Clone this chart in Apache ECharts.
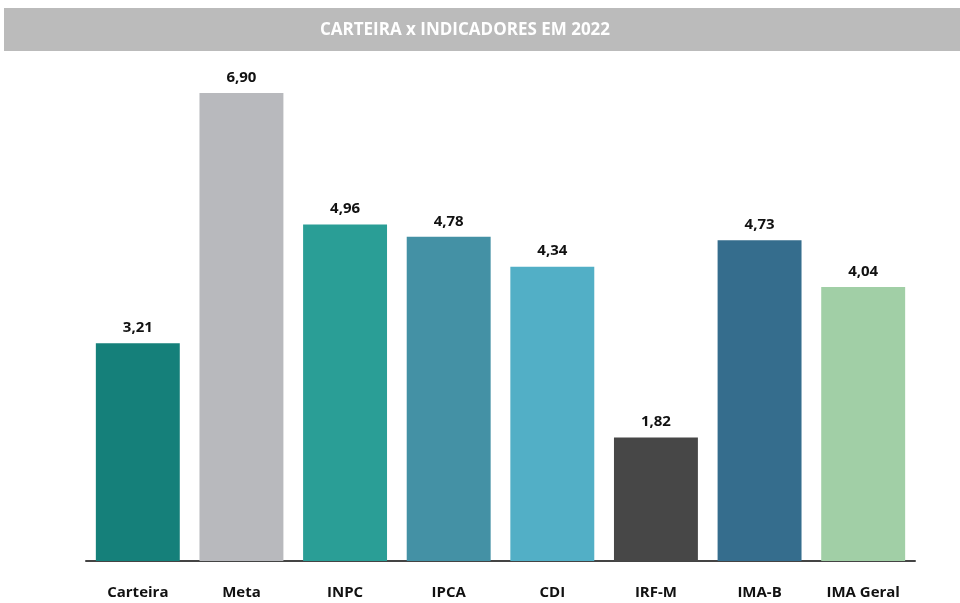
<!DOCTYPE html>
<html>
<head>
<meta charset="utf-8">
<script src="https://cdn.jsdelivr.net/npm/echarts@6/dist/echarts.min.js"></script>
<style>
  html, body { margin: 0; padding: 0; background: #fff; }
  #main { width: 960px; height: 603px; }
</style>
</head>
<body>
<div id="main"></div>
<script>
const categories = ['Carteira', 'Meta', 'INPC', 'IPCA', 'CDI', 'IRF-M', 'IMA-B', 'IMA Geral'];
const values = [3.21, 6.90, 4.96, 4.78, 4.34, 1.82, 4.73, 4.04];
const barColors = ['#15807a', '#b8b9bd', '#2a9e96', '#4491a5', '#52afc6', '#474747', '#356d8d', '#a1cfa6'];

const myChart = echarts.init(document.getElementById('main'));
myChart.setOption({
  animation: false,
  graphic: [
    {
      type: 'rect',
      shape: { x: 4, y: 8, width: 956, height: 43 },
      style: { fill: '#bbbbbb' },
    },
    {
      type: 'text',
      x: 465,
      y: 30,
      style: {
        text: 'CARTEIRA x INDICADORES EM 2022',
        fill: '#ffffff',
        font: 'bold 17px "Open Sans"',
        align: 'center',
        verticalAlign: 'middle',
      },
    },
  ],
  grid: {
    left: 86,
    right: 45,
    top: 93,
    bottom: 42,
  },
  xAxis: {
    type: 'category',
    data: categories,
    axisLine: { lineStyle: { color: '#444', width: 2 } },
    axisTick: { show: false },
    axisLabel: {
      margin: 24,
      color: '#111',
      fontWeight: 'bold',
      fontSize: 15,
      fontFamily: 'Open Sans',
    },
  },
  yAxis: {
    type: 'value',
    min: 0,
    max: 6.9,
    show: false,
    splitLine: { show: false },
  },
  series: [
    {
      type: 'bar',
      barCategoryGap: '19%',
      data: values.map((v, i) => ({ value: v, itemStyle: { color: barColors[i] } })),
      label: {
        show: true,
        position: 'top',
        distance: 8,
        color: '#111',
        fontWeight: 'bold',
        fontSize: 15,
        fontFamily: 'Open Sans',
        formatter: (p) => p.value.toFixed(2).replace('.', ','),
      },
    },
  ],
});
</script>
</body>
</html>
